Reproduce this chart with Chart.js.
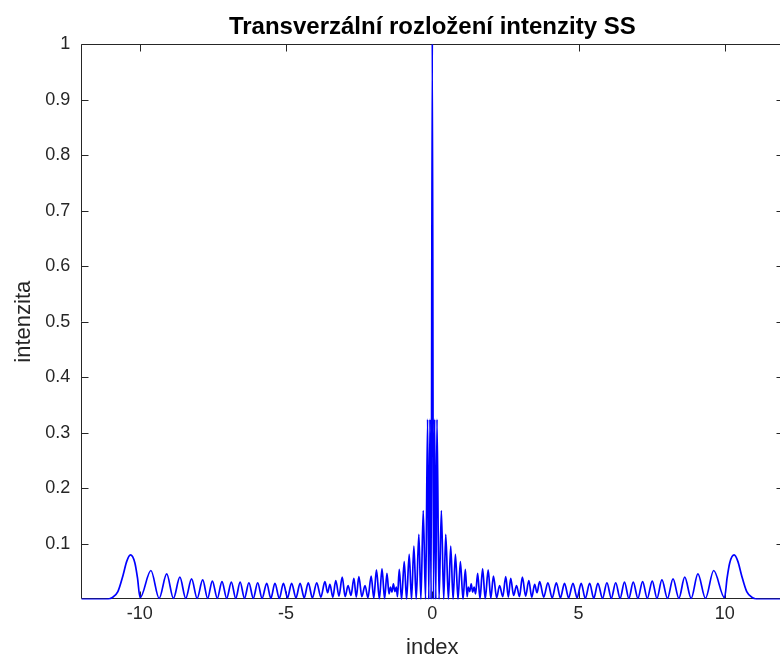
<!DOCTYPE html>
<html>
<head>
<meta charset="utf-8">
<script src="https://cdn.jsdelivr.net/npm/chart.js@4/dist/chart.umd.min.js"></script>
<style>
  html, body { margin: 0; padding: 0; background: #fff; overflow: hidden; }
  canvas { display: block; }
</style>
</head>
<body>
<canvas id="intenzitaChart" width="790" height="666" style="width:790px;height:666px"></canvas>
<script>
// values: peaks and troughs, left to right
const indexValues = [
  -12, -11.2, -10.95, -10.75, -10.57, -10.45, -10.32, -10.17, -10.08, -9.99,
  -9.62, -9.34, -9.08, -8.85, -8.63, -8.43, -8.23, -8.04, -7.85, -7.68,
  -7.52, -7.35, -7.19, -7.03, -6.87, -6.72, -6.57, -6.42, -6.27, -6.12,
  -5.97, -5.82, -5.66, -5.52, -5.38, -5.23, -5.09, -4.95, -4.81, -4.66,
  -4.52, -4.38, -4.24, -4.10, -3.95, -3.81, -3.67, -3.58, -3.50, -3.40,
  -3.30, -3.19, -3.08, -2.98, -2.88, -2.78, -2.68, -2.60, -2.51, -2.41,
  -2.30, -2.20, -2.09, -2.00, -1.91, -1.81, -1.72, -1.63, -1.55, -1.48,
  -1.43, -1.38, -1.33, -1.28, -1.23, -1.19, -1.13, -1.05, -0.96, -0.88,
  -0.79, -0.71, -0.63, -0.55, -0.46, -0.39, -0.31, -0.23, -0.16, -0.12,
  -0.08, -0.04,
  0,
  0.04, 0.08,
  0.12, 0.16, 0.23, 0.31, 0.39, 0.46, 0.55, 0.63, 0.71, 0.79,
  0.88, 0.96, 1.05, 1.13, 1.19, 1.23, 1.28, 1.33, 1.38, 1.43,
  1.48, 1.55, 1.63, 1.72, 1.81, 1.91, 2.00, 2.09, 2.20, 2.30,
  2.41, 2.51, 2.60, 2.68, 2.78, 2.88, 2.98, 3.08, 3.19, 3.30,
  3.40, 3.50, 3.58, 3.67, 3.81, 3.95, 4.10, 4.24, 4.38, 4.52,
  4.66, 4.81, 4.95, 5.09, 5.23, 5.38, 5.52, 5.66, 5.82, 5.97,
  6.12, 6.27, 6.42, 6.57, 6.72, 6.87, 7.03, 7.19, 7.35, 7.52,
  7.68, 7.85, 8.04, 8.23, 8.43, 8.63, 8.85, 9.08, 9.34, 9.62,
  9.99, 10.08, 10.17, 10.32, 10.45, 10.57, 10.75, 10.95, 11.2, 12
];

const intensityValues = [
  0, 0, 0.003, 0.014, 0.044, 0.068, 0.080, 0.066, 0.039, 0.003,
  0.052, 0.002, 0.046, 0.002, 0.040, 0.002, 0.037, 0.002, 0.035, 0.002,
  0.033, 0.002, 0.032, 0.002, 0.031, 0.002, 0.031, 0.002, 0.030, 0.002,
  0.030, 0.002, 0.029, 0.002, 0.029, 0.002, 0.029, 0.003, 0.029, 0.003,
  0.029, 0.003, 0.030, 0.003, 0.030, 0.004, 0.032, 0.012, 0.027, 0.004,
  0.034, 0.006, 0.040, 0.005, 0.025, 0.007, 0.038, 0.004, 0.041, 0.005,
  0.025, 0.003, 0.042, 0.002, 0.053, 0.001, 0.055, 0.001, 0.047, 0.010,
  0.022, 0.013, 0.028, 0.014, 0.022, 0.005, 0.054, 0, 0.068, 0,
  0.081, 0, 0.096, 0, 0.117, 0, 0.160, 0, 0.324, 0,
  0.324, 0,
  1,
  0, 0.324,
  0, 0.324, 0, 0.160, 0, 0.117, 0, 0.096, 0, 0.081,
  0, 0.068, 0, 0.054, 0.005, 0.022, 0.014, 0.028, 0.013, 0.022,
  0.010, 0.047, 0.001, 0.055, 0.001, 0.053, 0.002, 0.042, 0.003, 0.025,
  0.005, 0.041, 0.004, 0.038, 0.007, 0.025, 0.005, 0.040, 0.006, 0.034,
  0.004, 0.027, 0.012, 0.032, 0.004, 0.030, 0.003, 0.030, 0.003, 0.029,
  0.003, 0.029, 0.003, 0.029, 0.002, 0.029, 0.002, 0.029, 0.002, 0.030,
  0.002, 0.030, 0.002, 0.031, 0.002, 0.031, 0.002, 0.032, 0.002, 0.033,
  0.002, 0.035, 0.002, 0.037, 0.002, 0.040, 0.002, 0.046, 0.002, 0.052,
  0.003, 0.039, 0.066, 0.080, 0.068, 0.044, 0.014, 0.003, 0, 0
];

const xTicks = [-10, -5, 0, 5, 10];
const yTicks = [0.1, 0.2, 0.3, 0.4, 0.5, 0.6, 0.7, 0.8, 0.9, 1];

const axisColor = "#262626";
Chart.defaults.font.family = '"Liberation Sans", Arial, sans-serif';

// box round the axes with inward ticks, plus the title over the plot area
const matlabBox = {
  id: "matlabBox",
  beforeDatasetsDraw(chart) {
    const { ctx, chartArea: a, scales } = chart;
    const l = Math.round(a.left) + 0.5, r = Math.round(a.right) + 0.5;
    const t = Math.round(a.top) + 0.5, b = Math.round(a.bottom) - 0.5;
    ctx.save();
    ctx.strokeStyle = axisColor;
    ctx.lineWidth = 1;
    ctx.beginPath();
    ctx.rect(l, t, r - l, b - t);
    xTicks.forEach(v => {
      const p = Math.round(scales.x.getPixelForValue(v)) + 0.5;
      ctx.moveTo(p, b); ctx.lineTo(p, b - 7);
      ctx.moveTo(p, t); ctx.lineTo(p, t + 7);
    });
    yTicks.forEach(v => {
      const p = Math.round(scales.y.getPixelForValue(v)) + 0.5;
      ctx.moveTo(l, p); ctx.lineTo(l + 7, p);
      ctx.moveTo(r, p); ctx.lineTo(r - 7, p);
    });
    ctx.stroke();
    ctx.restore();
  },
  afterDraw(chart) {
    const { ctx, chartArea: a } = chart;
    ctx.save();
    ctx.fillStyle = "#000";
    ctx.font = 'bold 24px "Liberation Sans", Arial, sans-serif';
    ctx.textAlign = "center";
    ctx.textBaseline = "alphabetic";
    ctx.fillText("Transverzální rozložení intenzity SS", (a.left + a.right) / 2, 34);
    ctx.restore();
  }
};

const ctx = document.getElementById("intenzitaChart").getContext("2d");

new Chart(ctx, {
  type: "line",
  data: {
    datasets: [{
      data: indexValues.map((x, i) => ({ x: x, y: intensityValues[i] })),
      borderColor: "#0000ff",
      borderWidth: 1.7,
      pointRadius: 0,
      fill: false,
      cubicInterpolationMode: "monotone"
    }]
  },
  options: {
    responsive: false,
    animation: false,
    layout: { padding: { top: 44, right: 6.7, left: 0, bottom: 0 } },
    plugins: {
      legend: { display: false },
      tooltip: { enabled: false },
      title: { display: false }
    },
    scales: {
      x: {
        type: "linear",
        min: -12,
        max: 12,
        afterBuildTicks: s => { s.ticks = xTicks.map(v => ({ value: v })); },
        afterFit: s => { s.height = 66.6; },
        grid: { display: false, drawTicks: false },
        border: { display: false },
        ticks: { color: axisColor, font: { size: 18 }, padding: 4, maxRotation: 0, autoSkip: false },
        title: { display: true, text: "index", color: axisColor, font: { size: 22 }, padding: { top: 0, bottom: 5 } }
      },
      y: {
        min: 0,
        max: 1,
        afterBuildTicks: s => { s.ticks = yTicks.map(v => ({ value: v })); },
        afterFit: s => { s.width = 81.3; },
        grid: { display: false, drawTicks: false },
        border: { display: false },
        ticks: { color: axisColor, font: { size: 18 }, padding: 11, autoSkip: false, callback: v => String(v) },
        title: { display: true, text: "intenzita", color: axisColor, font: { size: 22 }, padding: { top: 11, bottom: 0 } }
      }
    }
  },
  plugins: [matlabBox]
});
</script>
</body>
</html>
